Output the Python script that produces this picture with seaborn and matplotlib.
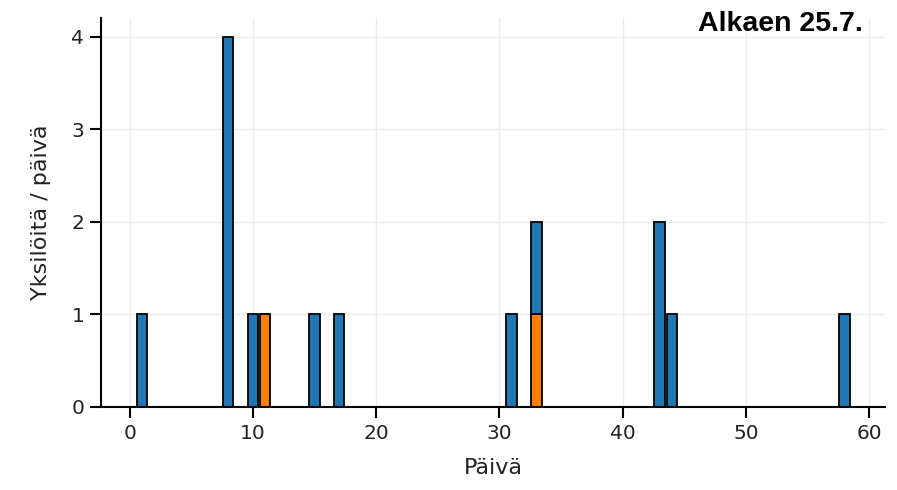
import matplotlib
matplotlib.use("Agg")
import matplotlib.pyplot as plt
import seaborn as sns
import pandas as pd

# Data
blue_days = [1, 8, 10, 15, 17, 31, 33, 43, 44, 58]
blue_counts = [1, 4, 1, 1, 1, 1, 1, 2, 1, 1]
orange_days = [11, 33]
orange_counts = [1, 1]
groups = ["A", "B"]
title_text = "Alkaen 25.7."
xlabel = "Päivä"
ylabel = "Yksilöitä / päivä"

df = pd.DataFrame({
    "day": blue_days + orange_days,
    "count": blue_counts + orange_counts,
    "group": [groups[0]] * len(blue_days) + [groups[1]] * len(orange_days),
})

sns.set_theme(style="ticks")
plt.rcParams["font.family"] = ["DejaVu Sans"]

fig = plt.figure(figsize=(8.97, 4.9), dpi=100)
ax = fig.add_axes([0.1126, 0.1694, 0.8744, 0.7936])

sns.histplot(data=df, x="day", weights="count", hue="group", hue_order=groups,
             palette=["#1f77b4", "#ff7f0e"], discrete=True, multiple="stack",
             shrink=0.85, edgecolor="black", linewidth=1.3, alpha=1,
             legend=False, ax=ax)

ax.grid(True, color="#ebebf0", linewidth=1)
ax.set_axisbelow(True)
sns.despine(ax=ax)
for s in ["left", "bottom"]:
    ax.spines[s].set_linewidth(1.5)
    ax.spines[s].set_color("black")
ax.tick_params(axis="both", labelsize=14.5, length=8, width=1.5, color="black",
               labelcolor="#222222", pad=4)
ax.set_xticks([0, 10, 20, 30, 40, 50, 60])
ax.set_yticks([0, 1, 2, 3, 4])
ax.set_xlabel(xlabel, fontsize=16, color="#222222", labelpad=11)
ax.set_ylabel(ylabel, fontsize=16, color="#222222", labelpad=15)

fig.text(0.962, 0.978, title_text, ha="right", va="top", fontsize=20.5,
         fontweight="bold", family=["Liberation Sans", "DejaVu Sans"], color="black")

fig.savefig("out.png", dpi=100)
